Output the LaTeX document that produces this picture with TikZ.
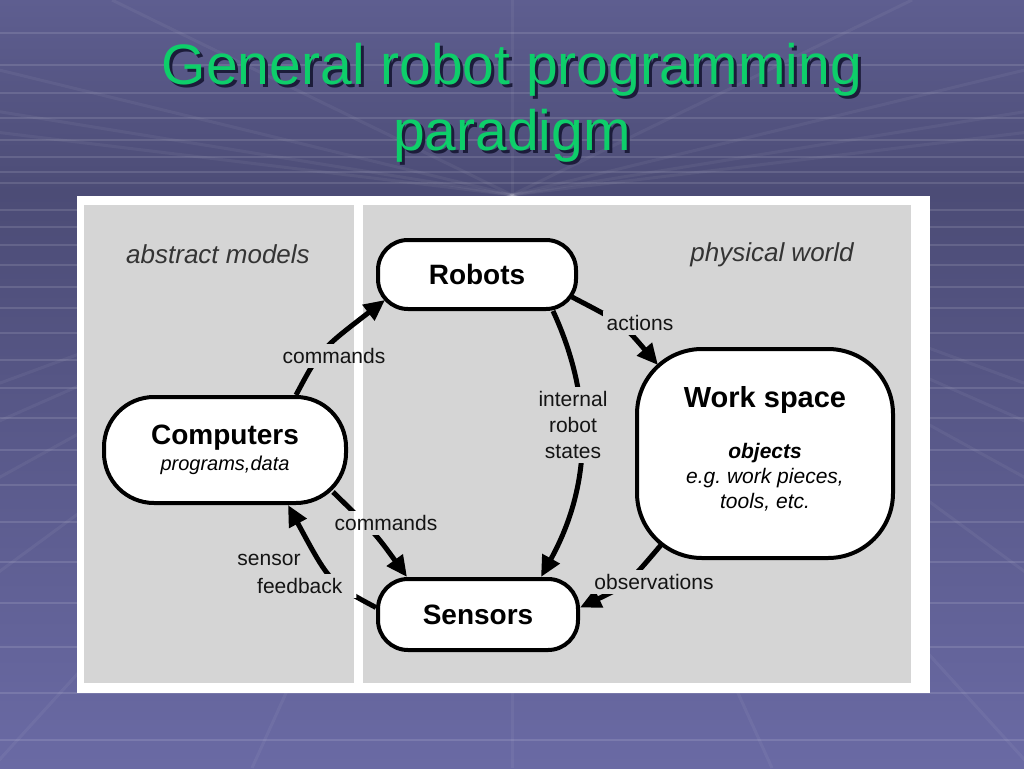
\documentclass[tikz,border=0pt]{standalone}
\usepackage{fontspec}
\setmainfont{Liberation Sans}
\usetikzlibrary{arrows.meta}
\definecolor{bgtop}{RGB}{94,94,144}
\definecolor{bgmid}{RGB}{76,76,118}
\definecolor{bgbot}{RGB}{106,106,164}
\definecolor{panel}{RGB}{213,213,213}
\definecolor{titlegreen}{RGB}{14,206,106}
\definecolor{shadowc}{RGB}{28,28,58}
\definecolor{ink}{RGB}{20,20,20}
\definecolor{softink}{RGB}{52,52,52}
\newcommand{\shadowtext}[1]{\makebox[0pt][l]{\kern3pt\raisebox{-3pt}{\color{shadowc}#1}}#1}
\begin{document}
\begin{tikzpicture}[x=1pt,y=-1pt,
  box/.style={draw=black, line width=4pt, fill=white, rounded corners=#1, inner sep=0pt, align=center},
  conn/.style={line width=5pt, -{Triangle[length=21pt,width=19pt]}},
  lbl/.style={fill=panel, inner sep=4pt, text=ink, font=\fontsize{21}{26}\selectfont, align=center,
    path picture={\fill[white] ([xshift=-4.5pt]div |- path picture bounding box.north) rectangle ([xshift=4.5pt]div |- path picture bounding box.south);}},
  zone/.style={text=softink, font=\fontsize{26}{30}\selectfont\itshape},
  ttl/.style={font=\fontsize{57}{66}\selectfont, anchor=base, text=titlegreen, inner sep=0pt},
  gridline/.style={white, opacity=0.12, line width=2.5pt},
  rayline/.style={white, opacity=0.05, line width=3pt}
]
\useasboundingbox (0,0) rectangle (1024,768);
% background
\shade[top color=bgtop, bottom color=bgmid] (0,0) rectangle (1024,192);
\shade[top color=bgmid, bottom color=bgbot] (0,192) rectangle (1024,768);
\foreach \yy in {33,65,93,118,140,157,172,183,210,227,245,265,287,308,333,360,388,418,450,485,522,562,603,647,693,740}
  \draw[gridline] (0,\yy) -- (1024,\yy);
\foreach \k in {-6,...,6}
  \draw[rayline] (512,195) -- ({512+\k*260},768);
\foreach \k in {-4,...,4}
  \draw[rayline] (512,195) -- ({512+\k*400},0);
% title
\node[ttl] (t1) at (512,84) {\shadowtext{General robot programming}};
\node[ttl] (t2) at (512,150) {\shadowtext{paradigm}};
% panel
\fill[white] (77,196) rectangle (930,693);
\fill[panel] (84,205) rectangle (354,683);
\fill[panel] (363,205) rectangle (911,683);
\coordinate (div) at (358.5,444);
% zone labels
\node[zone] (abs) at (218,254) {abstract models};
\node[zone] (phys) at (772,255) {physical world};
% nodes
\node[box=30pt, minimum width=198pt, minimum height=69pt, font=\fontsize{28}{30}\selectfont\bfseries] (robots) at (477,274.5)
  {Robots};
\node[box=50pt, minimum width=242pt, minimum height=106pt, font=\fontsize{20}{26}\selectfont] (comp) at (225,450)
  {{\fontsize{28}{30}\selectfont\bfseries Computers}\\{\itshape programs,data}};
\node[box=65pt, minimum width=256pt, minimum height=209pt, font=\fontsize{21}{25}\selectfont] (ws) at (765,453.5)
  {{\fontsize{29}{31}\selectfont\bfseries Work space}\\[26pt]{\bfseries\itshape objects}\\{\itshape e.g.\ work pieces,}\\{\itshape tools, etc.}\rule[-12pt]{0pt}{0pt}};
\node[box=30pt, minimum width=200pt, minimum height=71pt, font=\fontsize{28}{30}\selectfont\bfseries] (sens) at (478,614.5)
  {Sensors};
% connectors
\draw[conn] ([xshift=71pt]comp.north) .. controls (320,350) .. ([xshift=9pt,yshift=11pt]robots.south west);
\draw[conn] ([xshift=-6pt,yshift=14pt]robots.south east) .. controls (622,323) .. ([xshift=23pt,yshift=-18pt]ws.north west);
\draw[conn] ([xshift=76pt]robots.south) .. controls (585,380) and (600,470) .. ([xshift=63pt]sens.north);
\draw[conn] ([xshift=-15pt,yshift=13pt]comp.south east) .. controls (375,533) .. ([xshift=31pt]sens.north west);
\draw[conn] ([yshift=7pt]sens.west) .. controls (330,583) .. ([xshift=63pt]comp.south);
\draw[conn] ([xshift=26pt,yshift=15pt]ws.south west) .. controls (627,585) .. ([yshift=7pt]sens.east);
% connector labels
\node[lbl] (cmd1) at (334,356) {commands};
\node[lbl] (act) at (640,323) {actions};
\node[lbl] (irs) at (573,425) {internal\\robot\\states};
\node[lbl] (cmd2) at (386,523) {commands};
\node[lbl] (sensor) at (269,560) {sensor};
\node[lbl, anchor=west] (feedback) at (253,586) {feedback\hspace*{10pt}};
\node[lbl] (obs) at (654,582) {observations};
\end{tikzpicture}
\end{document}
